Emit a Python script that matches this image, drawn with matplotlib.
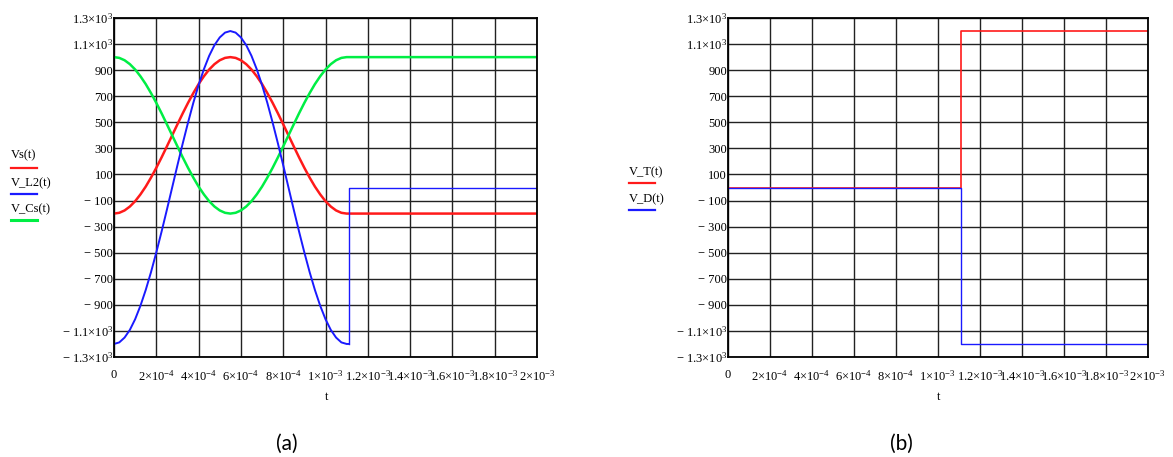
import matplotlib
matplotlib.use("Agg")
import matplotlib.pyplot as plt
from matplotlib.lines import Line2D
import numpy as np

plt.rcParams['mathtext.fontset'] = 'custom'
plt.rcParams['mathtext.rm'] = 'Liberation Serif'
plt.rcParams['mathtext.it'] = 'Liberation Serif:italic'
plt.rcParams['font.family'] = ['Liberation Serif', 'DejaVu Serif']

# ---------------- data ----------------
# time samples of the resonant interval (s)
t_res = [i * 0.25e-4 for i in range(45)]
Vs_res = [-200, -194, -176, -146, -105, -53, 7, 76, 151, 231, 315, 400, 485, 569, 649, 724,
          793, 853, 905, 946, 976, 994, 1000, 994, 976, 946, 905, 853, 793, 724, 649, 569,
          485, 400, 315, 231, 151, 76, 7, -53, -105, -146, -176, -194, -200]
VCs_res = [1000, 994, 976, 946, 905, 853, 793, 724, 649, 569, 485, 400, 315, 231, 151, 76,
           7, -53, -105, -146, -176, -194, -200, -194, -176, -146, -105, -53, 7, 76, 151, 231,
           315, 400, 485, 569, 649, 724, 793, 853, 905, 946, 976, 994, 1000]
VL2_res = [-1200, -1188, -1151, -1092, -1010, -907, -786, -649, -498, -338, -171, 0, 171, 338,
           498, 649, 786, 907, 1010, 1092, 1151, 1188, 1200, 1188, 1151, 1092, 1010, 907, 786,
           649, 498, 338, 171, 0, -171, -338, -498, -649, -786, -907, -1010, -1092, -1151,
           -1188, -1200]
# after the resonant interval
t_after = [1.1e-3, 2e-3]
Vs_after = [-200, -200]
VCs_after = [1000, 1000]
t_L2_after = [1.11e-3, 1.11e-3, 2e-3]
VL2_after = [-1200, 0, 0]

# panel (b) step waveforms
t_step = [0, 1.11e-3, 1.11e-3, 2e-3]
VT = [0, 0, 1200, 1200]
VD = [0, 0, -1200, -1200]

yticks = list(range(-1300, 1301, 200))
ytick_labels = ["\u2212 1.3\u00d710$^{3}$", "\u2212 1.1\u00d710$^{3}$", "\u2212 900", "\u2212 700",
                "\u2212 500", "\u2212 300", "\u2212 100", "100", "300", "500", "700", "900",
                "1.1\u00d710$^{3}$", "1.3\u00d710$^{3}$"]
xticks = [i * 2e-4 for i in range(11)]
xtick_labels = ["0", "2\u00d710$^{-4}$", "4\u00d710$^{-4}$", "6\u00d710$^{-4}$", "8\u00d710$^{-4}$",
                "1\u00d710$^{-3}$", "1.2\u00d710$^{-3}$", "1.4\u00d710$^{-3}$", "1.6\u00d710$^{-3}$",
                "1.8\u00d710$^{-3}$", "2\u00d710$^{-3}$"]

W, H = 1173, 457
fig = plt.figure(figsize=(W / 100, H / 100), dpi=100)

RED = '#ff1a1a'
GREEN = '#00ee44'
BLUE = '#1a1aff'
FS = 9


def setup(ax):
    ax.set_xlim(0, 2e-3)
    ax.set_ylim(-1300, 1300)
    ax.set_yticks(yticks)
    ax.set_yticklabels(ytick_labels, fontsize=FS)
    ax.set_xticks(xticks)
    ax.set_xticklabels(xtick_labels, fontsize=FS)
    ax.tick_params(axis='both', length=0)
    ax.tick_params(axis='y', pad=0.5)
    ax.tick_params(axis='x', pad=9)
    ax.grid(True, color='#222222', linewidth=1.0)
    ax.set_axisbelow(True)
    for s in ax.spines.values():
        s.set_linewidth(1.3)
        s.set_color('black')


def px(x, y):
    return x / W, 1 - y / H


# panel (a)
axa = fig.add_axes([114 / W, 1 - 357 / H, (537 - 114) / W, (357 - 18) / H])
setup(axa)
axa.plot(t_res + t_after, Vs_res + Vs_after, color=RED, lw=1.8, solid_joinstyle='round')
axa.plot(t_res + t_after, VCs_res + VCs_after, color=GREEN, lw=1.8)
axa.plot(t_res + t_L2_after[:1], VL2_res + VL2_after[:1], color=BLUE, lw=1.4)
axa.plot(t_L2_after, VL2_after, color=BLUE, lw=1.0)

# panel (b)
axb = fig.add_axes([727.7 / W, 1 - 357 / H, (1147.7 - 727.7) / W, (357 - 18) / H])
setup(axb)
axb.plot(t_step, VT, color=RED, lw=1.2)
axb.plot(t_step, VD, color=BLUE, lw=1.0)

# legends (Mathcad style: name above coloured line)
def legend_entry(x, ytxt, yline, label, color, lw):
    fig.text(*px(x, ytxt), label, fontsize=FS, ha='left', va='center')
    fig.add_artist(Line2D([x / W, (x + 26) / W], [1 - yline / H] * 2, color=color, lw=lw,
                          transform=fig.transFigure))

legend_entry(11, 155, 168, "Vs(t)", RED, 1.6)
legend_entry(11, 183, 194, "V_L2(t)", BLUE, 1.6)
legend_entry(11, 209, 220, "V_Cs(t)", GREEN, 2.2)
legend_entry(629, 172.5, 183.3, "V_T(t)", RED, 1.6)
legend_entry(629, 199.3, 210.3, "V_D(t)", BLUE, 1.6)

# axis titles
fig.text(*px(326.7, 397), "t", fontsize=FS, ha='center', va='center')
fig.text(*px(939, 397), "t", fontsize=FS, ha='center', va='center')

# captions
fig.text(*px(287, 444), "(a)", fontsize=15, ha='center', va='center', family=['Lato', 'DejaVu Sans'])
fig.text(*px(901, 444), "(b)", fontsize=15, ha='center', va='center', family=['Lato', 'DejaVu Sans'])

fig.savefig("out.png", dpi=100)
